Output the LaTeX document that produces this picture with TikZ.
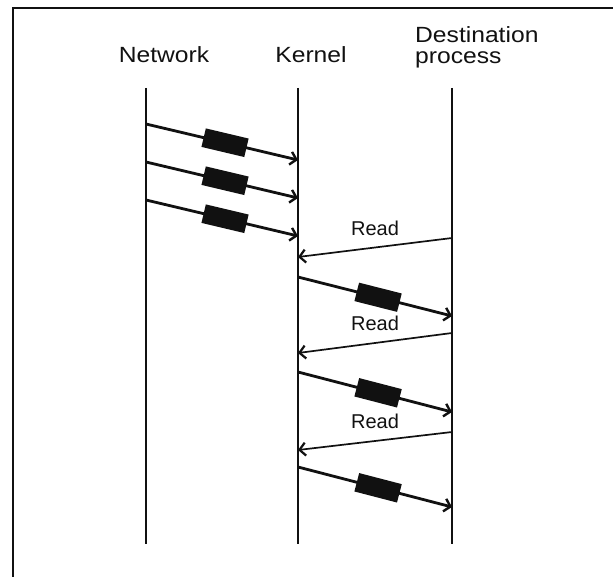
\documentclass[tikz,border=0pt]{standalone}
\usepackage{fontspec}
\setmainfont{Liberation Sans}
\newfontfamily\headfont[FakeStretch=1.12]{Liberation Sans}
\usetikzlibrary{arrows.meta,positioning}
\definecolor{Ink}{HTML}{111111}

\begin{document}
\begin{tikzpicture}[x=1pt, y=-1pt, every node/.style={text=Ink},
  lifeline/.style={draw=Ink, line width=1.4pt},
  datamsg/.style={draw=Ink, line width=2.8pt, -{Straight Barb[length=6pt,width=13pt,line width=2.4pt]}},
  readmsg/.style={draw=Ink, line width=1.7pt, -{Straight Barb[length=6pt,width=13pt,line width=2.2pt]}},
  packet/.style={fill=Ink, draw=none, minimum width=44pt, minimum height=19pt, inner sep=0pt, sloped, pos=0.52},
  heading/.style={font=\headfont\fontsize{22}{21}\selectfont, inner sep=0pt},
  readlbl/.style={font=\fontsize{20}{20}\selectfont, above=8pt, midway}]
\useasboundingbox (0,0) rectangle (613,577);
\draw[draw=Ink, line width=1.6pt] (13,577) -- (13,8) -- (613,8);
\node[heading, anchor=base] (network) at (164,63) {Network};
\node[heading, anchor=base] (kernel) at (311,63) {Kernel};
\node[heading, anchor=west, align=left] (dest) at (415,47) {Destination\\process};
\coordinate (nettop) at (146,88);
\coordinate (netbot) at (146,544);
\coordinate (kertop) at (298,88);
\coordinate (kerbot) at (298,544);
\coordinate (desttop) at (452,88);
\coordinate (destbot) at (452,544);
\draw[lifeline] (nettop) -- (netbot);
\draw[lifeline] (kertop) -- (kerbot);
\draw[lifeline] (desttop) -- (destbot);
\coordinate (n1) at (146,124); \coordinate (k1) at (298,160);
\coordinate (n2) at (146,162); \coordinate (k2) at (298,198);
\coordinate (n3) at (146,200); \coordinate (k3) at (298,236);
\draw[datamsg] (n1) -- node[packet] {} (k1);
\draw[datamsg] (n2) -- node[packet] {} (k2);
\draw[datamsg] (n3) -- node[packet] {} (k3);
\coordinate (r1s) at (452,238); \coordinate (r1e) at (298,257);
\coordinate (d1s) at (298,277); \coordinate (d1e) at (452,316);
\coordinate (r2s) at (452,333); \coordinate (r2e) at (298,353);
\coordinate (d2s) at (298,372); \coordinate (d2e) at (452,412);
\coordinate (r3s) at (452,432); \coordinate (r3e) at (298,450);
\coordinate (d3s) at (298,467); \coordinate (d3e) at (452,507);
\draw[readmsg] (r1s) -- node[readlbl] (read1) {Read} (r1e);
\draw[datamsg] (d1s) -- node[packet] {} (d1e);
\draw[readmsg] (r2s) -- node[readlbl] (read2) {Read} (r2e);
\draw[datamsg] (d2s) -- node[packet] {} (d2e);
\draw[readmsg] (r3s) -- node[readlbl] (read3) {Read} (r3e);
\draw[datamsg] (d3s) -- node[packet] {} (d3e);
\end{tikzpicture}
\end{document}
